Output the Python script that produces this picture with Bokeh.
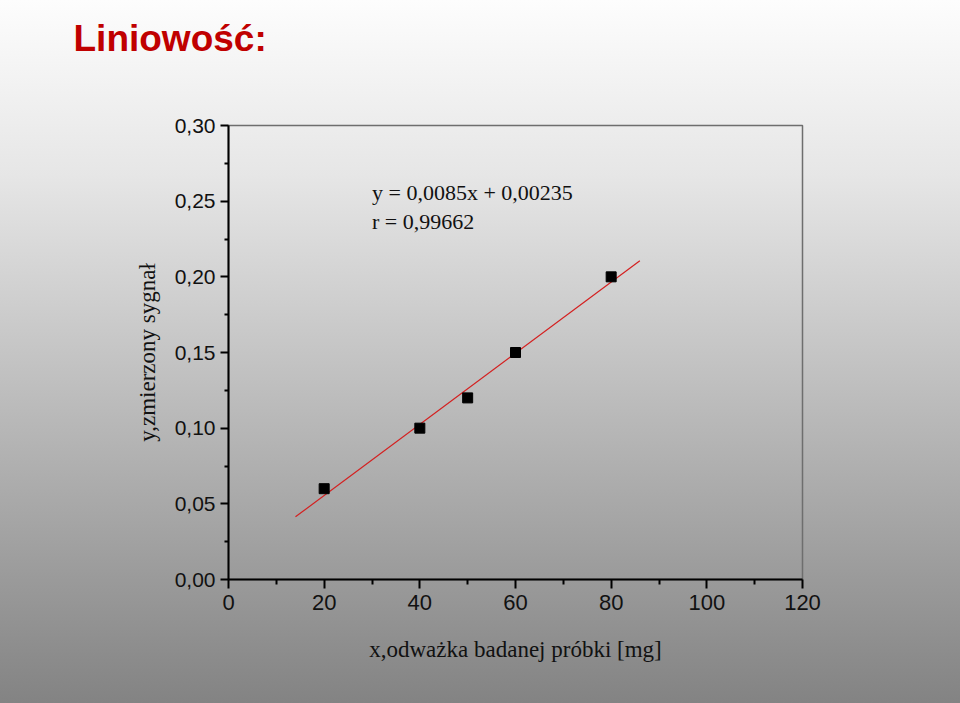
from bokeh.plotting import figure
from bokeh.models import Range1d, FixedTicker, Label, Title
from bokeh.embed import file_html
from bokeh.resources import INLINE

# data
mass_mg = [20, 40, 50, 60, 80]
signal = [0.06, 0.10, 0.12, 0.15, 0.20]
fit_intercept = 0.0085
fit_slope = 0.00235
fit_x = [14, 86]
fit_y = [fit_intercept + fit_slope * v for v in fit_x]

x_ticks = [0, 20, 40, 60, 80, 100, 120]
x_minor = [10, 30, 50, 70, 90, 110]
y_ticks = [0.0, 0.05, 0.10, 0.15, 0.20, 0.25, 0.30]
y_tick_labels = ["0,00", "0,05", "0,10", "0,15", "0,20", "0,25", "0,30"]
y_minor = [0.025, 0.075, 0.125, 0.175, 0.225, 0.275]

title_text = "Liniowość:"
eq_line1 = "y = 0,0085x + 0,00235"
eq_line2 = "r = 0,99662"
x_label = "x,odważka badanej próbki [mg]"
y_label = "y,zmierzony sygnał"

p = figure(width=960, height=703, output_backend="svg", toolbar_location=None,
           x_range=Range1d(0, 120), y_range=Range1d(0, 0.30),
           min_border_left=228, min_border_right=158,
           min_border_top=125, min_border_bottom=124)

p.background_fill_color = None
p.border_fill_color = None
p.styles = {"background-image": "linear-gradient(to bottom, #fdfdfd 0%, #e6e6e6 25%, #838383 100%)"}
p.grid.visible = False
p.outline_line_color = "#6e6e6e"
p.outline_line_width = 1.5

p.title.text = title_text
p.title.text_font = "Liberation Sans"
p.title.text_font_style = "bold"
p.title.text_font_size = "37px"
p.title.text_color = "#c00000"
p.title.align = "left"
p.title.vertical_align = "top"
p.title.offset = -155
p.title.standoff = 34

spacer = Title(text=" ", text_font_size="1px", standoff=45)
p.add_layout(spacer, "above")

for ax in (p.xaxis[0], p.yaxis[0]):
    ax.axis_line_color = "black"
    ax.axis_line_width = 2
    ax.major_tick_line_color = "black"
    ax.major_tick_line_width = 2
    ax.minor_tick_line_color = "black"
    ax.minor_tick_line_width = 2
    ax.major_tick_in = 0
    ax.minor_tick_in = 0
    ax.major_label_text_font = "Liberation Sans"
    ax.major_label_text_font_size = "21px"
    ax.major_label_text_color = "#111111"
    ax.axis_label_text_font = "Liberation Serif"
    ax.axis_label_text_font_size = "22px"
    ax.axis_label_text_font_style = "normal"
    ax.axis_label_text_color = "#111111"

p.xaxis[0].ticker = FixedTicker(ticks=x_ticks, minor_ticks=x_minor)
p.xaxis[0].major_tick_out = 9
p.xaxis[0].minor_tick_out = 5
p.xaxis[0].major_label_text_font_size = "22px"
p.xaxis[0].major_label_standoff = 6
p.xaxis[0].axis_label = x_label
p.xaxis[0].axis_label_text_font_size = "23px"
p.xaxis[0].axis_label_standoff = 24

p.yaxis[0].ticker = FixedTicker(ticks=y_ticks, minor_ticks=y_minor)
p.yaxis[0].major_label_overrides = {t: s for t, s in zip(y_ticks, y_tick_labels)}
p.yaxis[0].major_tick_out = 8
p.yaxis[0].minor_tick_out = 4
p.yaxis[0].major_label_standoff = 5
p.yaxis[0].axis_label = y_label
p.yaxis[0].axis_label_text_font_size = "23px"
p.yaxis[0].axis_label_standoff = 12

p.line(fit_x, fit_y, line_color="#d42020", line_width=1.2)
p.scatter(mass_mg, signal, marker="square", size=10, fill_color="black", line_color="black")

p.add_layout(Label(x=30, y=0.2557, text=eq_line1, text_font="Liberation Serif",
                   text_font_size="22px", text_color="#111111", text_baseline="alphabetic"))
p.add_layout(Label(x=30, y=0.2366, text=eq_line2, text_font="Liberation Serif",
                   text_font_size="22px", text_color="#111111", text_baseline="alphabetic"))

open("out.html", "w").write(file_html(p, INLINE))
